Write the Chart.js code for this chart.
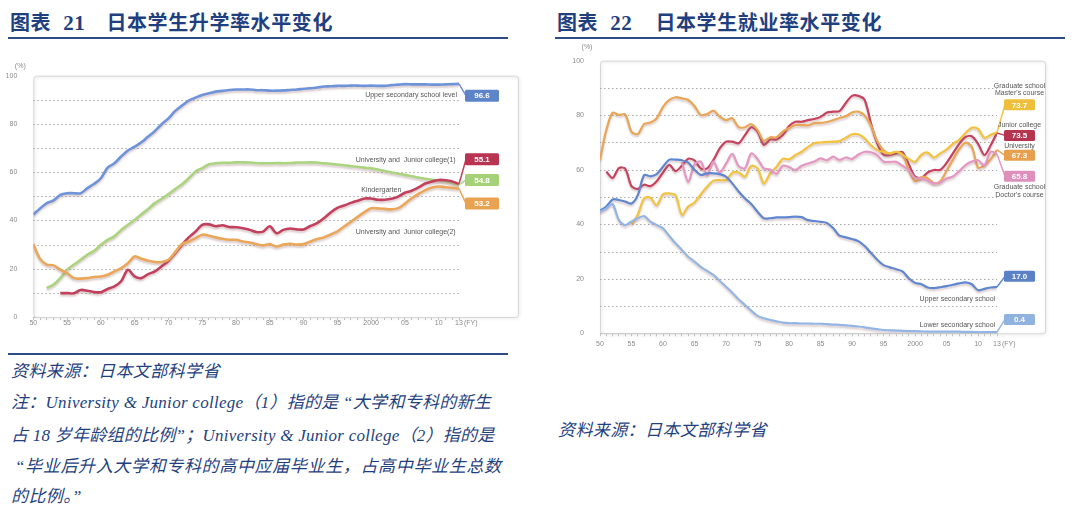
<!DOCTYPE html>
<html><head><meta charset="utf-8">
<script src="https://cdn.jsdelivr.net/npm/chart.js@4.4.1/dist/chart.umd.min.js"></script>
<style>
body{margin:0;width:1080px;height:512px;background:#fff;position:relative;overflow:hidden;font-family:"Noto Sans CJK SC",sans-serif;}
.title{position:absolute;top:9px;font-size:20px;font-weight:700;color:#1f3f7f;white-space:nowrap;letter-spacing:0.6px;line-height:26px}
.title .n{font-family:"Liberation Serif",serif;font-weight:700;font-size:21px}
.rule{position:absolute;height:2px;background:#2d4d8a}
.note{position:absolute;font-family:"Liberation Serif","Noto Sans CJK SC",serif;font-style:italic;font-size:17px;color:#1f3f7f;white-space:nowrap;line-height:20px}
canvas{position:absolute}
</style></head><body>
<div class="title" style="left:10px">图表<span class="n" style="margin-left:12px">21</span><span style="margin-left:21px">日本学生升学率水平变化</span></div>
<div class="rule" style="left:8px;top:37px;width:500px"></div>
<div class="title" style="left:557px">图表<span class="n" style="margin-left:12px">22</span><span style="margin-left:23px">日本学生就业率水平变化</span></div>
<div class="rule" style="left:555px;top:37px;width:510px"></div>
<canvas id="c1" width="530" height="290" style="left:0;top:50px;width:530px;height:290px"></canvas>
<canvas id="c2" width="520" height="320" style="left:555px;top:40px;width:520px;height:320px"></canvas>
<div class="rule" style="left:8px;top:353px;width:500px;height:1.5px"></div>
<div class="note" style="left:11px;top:362px;letter-spacing:0.4px">资料来源：日本文部科学省</div>
<div class="note" style="left:11px;top:393px;letter-spacing:0.28px">注：University &amp; Junior college（1）指的是 “大学和专科的新生</div>
<div class="note" style="left:11px;top:426px;letter-spacing:0.25px">占 18 岁年龄组的比例”；University &amp; Junior college（2）指的是</div>
<div class="note" style="left:15px;top:457px;letter-spacing:0.65px">“毕业后升入大学和专科的高中应届毕业生，占高中毕业生总数</div>
<div class="note" style="left:11px;top:487px;letter-spacing:0.4px">的比例。”</div>
<div class="note" style="left:558px;top:421px;letter-spacing:0.4px">资料来源：日本文部科学省</div>
<script>
// ---------- DATA ----------
const years = [1950,1951,1952,1953,1954,1955,1956,1957,1958,1959,1960,1961,1962,1963,1964,1965,1966,1967,1968,1969,1970,1971,1972,1973,1974,1975,1976,1977,1978,1979,1980,1981,1982,1983,1984,1985,1986,1987,1988,1989,1990,1991,1992,1993,1994,1995,1996,1997,1998,1999,2000,2001,2002,2003,2004,2005,2006,2007,2008,2009,2010,2011,2012,2013];
const tickYears = [1950,1955,1960,1965,1970,1975,1980,1985,1990,1995,2000,2005,2010,2013];
const tickText  = ['50','55','60','65','70','75','80','85','90','95','2000','05','10','13'];
const yTicks = [0,10,20,30,40,50,60,70,80,90,100];
const yTickLabels = ['0','','20','','40','','60','','80','','100'];

// Chart 21 (advancement rates)
const upperSecondaryLevel = [42.5,45.0,47.2,48.3,50.6,51.3,51.3,51.3,53.4,55.2, 57.5,61.9,63.7,66.5,69.0,70.6,72.4,74.8,77.1,79.9, 82.3,85.4,87.6,89.7,90.9,92.0,92.7,93.4,93.7,94.1, 94.3,94.3,94.3,94.0,94.0,93.8,93.8,93.9,94.1,94.3, 94.6,94.8,95.1,95.5,95.6,95.8,95.8,95.9,95.9,95.8, 95.9,95.8,95.8,96.1,96.3,96.5,96.4,96.4,96.4,96.3, 96.3,96.4,96.5,96.6];
const kindergarten = [null,null,12.0,13.4,16.1,19.6,21.7,23.7,25.8,27.4, 29.9,32.0,33.4,36.1,38.2,40.3,42.6,44.8,47.2,49.0, 50.9,53.0,55.0,57.5,60.3,61.7,63.3,63.7,63.9,63.9, 64.1,64.1,64.0,63.8,63.7,63.7,63.8,63.7,63.8,64.0, 64.0,64.1,64.0,63.7,63.5,63.2,62.9,62.5,62.3,61.9, 61.6,61.1,60.5,59.9,59.4,58.9,58.3,57.8,57.3,56.9, 56.6,56.3,55.5,54.8];
const univJunior1 = [null,null,null,null,9.9,9.9,9.8,11.2,10.9,10.3, 10.3,11.6,12.7,14.8,19.6,16.8,16.1,17.8,18.9,21.0, 23.3,26.5,29.9,33.0,35.4,38.2,38.4,37.6,38.0,37.3, 37.2,36.8,36.2,35.2,35.4,37.6,34.7,36.1,36.7,36.3, 36.3,37.7,38.9,40.9,43.3,45.2,46.2,47.3,48.2,49.1, 49.1,48.6,48.6,49.0,49.9,51.5,52.3,53.7,55.3,56.2, 56.8,56.7,56.2,55.1];
const univJunior2 = [30.2,24.1,21.7,21.4,19.6,18.2,16.1,15.9,16.1,16.6, 16.8,17.5,18.9,20.3,22.3,25.1,24.1,23.3,22.8,22.8, 23.7,26.9,30.2,31.3,32.7,34.1,33.7,33.0,32.4,32.0, 32.0,31.3,30.9,30.2,29.7,30.2,29.2,30.0,30.3,30.0, 30.2,31.3,32.3,33.0,34.2,35.5,37.5,39.5,41.5,43.5, 45.1,45.0,44.8,44.6,45.1,47.0,49.2,51.0,52.6,53.7, 54.1,53.8,53.5,53.2];

// Chart 22 (employment rates)
const empUniversity = [63.6,74.6,80.9,80.1,80.3,74.0,73.1,76.8,77.3,78.9, 83.1,85.6,86.6,86.2,85.6,83.4,80.1,80.4,81.7,79.5, 78.2,78.9,75.6,75.6,76.7,74.6,70.6,71.9,71.9,74.0, 75.3,76.4,76.4,76.3,77.1,77.2,77.5,78.2,79.0,79.6, 81.0,81.3,79.9,76.2,70.5,67.1,65.9,66.6,65.6,60.1, 55.8,57.3,56.9,55.1,55.8,59.7,63.7,67.6,69.9,68.4, 60.8,61.6,63.9,67.3];
const empJuniorCollege = [null,59.3,57.0,60.6,60.4,54.0,53.0,54.5,54.0,55.8, 59.0,61.8,59.5,61.5,64.0,63.4,60.5,60.5,63.6,67.8, 70.3,70.3,69.7,72.7,75.6,74.0,69.1,71.1,71.1,72.7, 76.0,77.6,77.6,78.2,78.6,79.4,81.0,81.3,81.5,84.5, 87.1,87.1,85.6,77.0,69.7,65.5,65.4,66.0,66.5,62.0, 57.5,57.0,59.0,59.9,60.0,62.5,66.0,69.5,72.0,72.3, 69.5,65.4,69.0,73.5];
const empMaster = [null,null,null,null,null,40.0,43.5,49.5,49.8,47.0, 51.0,51.3,50.6,43.5,46.5,48.0,51.0,53.8,56.0,56.2, 56.2,58.9,59.0,57.5,61.4,60.5,55.0,58.7,61.0,64.0, 63.8,65.4,66.6,68.4,69.7,70.0,70.2,70.3,70.5,71.7, 73.0,73.0,71.5,69.0,67.2,66.5,66.0,66.6,65.5,64.0, 62.9,65.5,66.3,64.5,66.0,67.5,69.5,71.0,73.5,75.4, 75.0,71.7,72.8,73.7];
const empDoctor = [null,null,null,null,null,null,null,null,null,null, null,null,null,62.9,55.6,62.0,63.0,58.0,63.0,59.0, 62.3,65.8,61.4,60.5,66.0,64.0,60.5,60.1,58.5,61.5, 61.0,59.9,61.5,62.3,63.0,64.2,63.5,64.8,63.6,64.5, 64.0,65.6,66.6,66.4,65.4,63.0,62.9,62.9,61.5,59.9, 57.0,56.8,56.0,55.0,55.3,56.8,57.5,59.5,61.7,63.0, 63.5,61.7,66.6,65.8];
const empUpperSecondary = [45.0,46.5,49.1,48.9,48.3,47.6,50.7,58.0,57.6,58.4, 61.1,63.7,63.7,63.5,62.6,60.0,58.1,58.7,58.7,58.4, 57.5,55.0,52.0,49.5,47.4,44.6,42.2,42.2,42.5,42.5, 42.6,42.8,42.6,41.5,41.2,40.9,40.5,38.6,35.8,35.2, 34.6,33.8,32.0,29.5,27.0,25.0,24.2,23.5,22.7,20.2, 18.5,18.0,16.8,16.6,16.9,17.3,17.8,18.3,18.7,18.0, 15.8,16.3,16.8,17.0];
const empLowerSecondary = [44.6,45.8,47.4,41.6,39.7,41.0,42.2,43.0,41.0,39.7, 38.5,35.7,33.0,30.6,28.1,26.3,24.4,22.9,21.4,19.3, 17.1,14.9,12.5,10.4,8.3,6.4,5.5,4.9,4.4,3.9, 3.7,3.7,3.6,3.6,3.5,3.5,3.4,3.2,3.1,2.9, 2.7,2.5,2.2,1.8,1.5,1.2,1.1,1.0,0.9,0.8, 0.8,0.7,0.6,0.6,0.6,0.6,0.6,0.6,0.5,0.5, 0.4,0.4,0.4,0.4];

// ---------- DRAWING ----------
const F = '"Liberation Sans", Arial, sans-serif';
function rr(ctx,x,y,w,h,r){ctx.beginPath();ctx.moveTo(x+r,y);ctx.lineTo(x+w-r,y);ctx.quadraticCurveTo(x+w,y,x+w,y+r);ctx.lineTo(x+w,y+h-r);ctx.quadraticCurveTo(x+w,y+h,x+w-r,y+h);ctx.lineTo(x+r,y+h);ctx.quadraticCurveTo(x,y+h,x,y+h-r);ctx.lineTo(x,y+r);ctx.quadraticCurveTo(x,y,x+r,y);ctx.closePath();}

function decor(o){
  return {
    id:'decor',
    beforeDatasetsDraw(chart){
      const {ctx, chartArea:a, scales:{x,y}} = chart;
      ctx.save();
      ctx.shadowColor='rgba(0,0,0,0.14)';ctx.shadowBlur=3;ctx.shadowOffsetX=1;ctx.shadowOffsetY=1;
      ctx.strokeStyle='#d6d6d6';ctx.lineWidth=1;
      rr(ctx,a.left+0.5,a.top+0.5,a.right+o.frameExtra-a.left,a.bottom-a.top,3);ctx.stroke();
      ctx.restore();
      ctx.save();ctx.strokeStyle='#a8a8a8';ctx.lineWidth=1;ctx.setLineDash([1.5,2.5]);
      yTicks.forEach(v=>{ if(v===0||v===100) return; const py=Math.round(y.getPixelForValue(v))+0.5;
        ctx.beginPath();ctx.moveTo(a.left,py);ctx.lineTo(a.right,py);ctx.stroke();});
      ctx.restore();
    },
    beforeDatasetDraw(chart){const c=chart.ctx;c.save();c.shadowColor='rgba(150,105,105,0.35)';c.shadowBlur=2;c.shadowOffsetY=2;},
    afterDatasetDraw(chart){chart.ctx.restore();},
    afterDatasetsDraw(chart){
      const {ctx, chartArea:a, scales:{x,y}} = chart;
      ctx.save();
      ctx.fillStyle='#8a8a8a';ctx.font='7px '+F;ctx.textBaseline='middle';ctx.textAlign='center';
      ctx.fillText('(%)',a.left-13,a.top+o.pctDy);
      ctx.textAlign='left';
      ctx.fillText('(FY)',x.getPixelForValue(2013)+5,a.bottom+o.fyDy);
      const last=years.length-1;
      o.boxes.forEach(b=>{
        const px=x.getPixelForValue(years[last]), py=y.getPixelForValue(b.values[last]);
        const bx=a.right+o.boxOff, by=y.getPixelForValue(b.level)-o.boxH/2;
        ctx.strokeStyle=b.line;ctx.lineWidth=1.5;ctx.beginPath();ctx.moveTo(px,py);ctx.lineTo(bx+1,by+o.boxH/2);ctx.stroke();
        ctx.fillStyle=b.color;rr(ctx,bx,by,o.boxW,o.boxH,1.5);ctx.fill();
        ctx.fillStyle='#fff';ctx.font='bold 8px '+F;ctx.textAlign='center';ctx.textBaseline='middle';
        ctx.fillText(b.text,bx+o.boxW/2,by+o.boxH/2+0.5);
      });
      ctx.fillStyle='#555';ctx.font='7px '+F;ctx.textBaseline='middle';
      o.texts.forEach(t=>{
        ctx.textAlign=t.align;
        const tx = t.atBox ? a.right+o.boxOff+o.boxW/2 : x.getPixelForValue(t.yr);
        ctx.fillText(t.t,tx,y.getPixelForValue(t.v));
      });
      ctx.restore();
    }
  };
}

function build(id,o){
  const datasets=o.series.map(s=>({label:s.name,data:years.map((yr,i)=>({x:yr,y:s.values[i]})),
    borderColor:s.color,borderWidth:o.lw,pointRadius:0,tension:0.3,fill:false,spanGaps:false}));
  new Chart(document.getElementById(id),{
    type:'line',data:{datasets},
    options:{responsive:false,animation:false,devicePixelRatio:1,
      layout:{padding:{top:o.padTop,right:o.padRight,left:0,bottom:0}},
      plugins:{legend:{display:false},tooltip:{enabled:false}},
      scales:{
        x:{type:'linear',min:1950,max:2013,
          afterBuildTicks:s=>{s.ticks=years.map(v=>({value:v}));},
          afterFit:s=>{s.height=o.xH;},
          grid:{drawOnChartArea:false,drawTicks:true,tickLength:3,color:'#c6c6c6',lineWidth:1},
          border:{color:'#bcbcbc',width:1},
          ticks:{autoSkip:false,maxRotation:0,minRotation:0,padding:o.xPad,color:'#8a8a8a',font:{size:7,family:F},
            callback:v=>{const k=tickYears.indexOf(v);return k<0?'':tickText[k];}}},
        y:{type:'linear',min:0,max:100,
          afterBuildTicks:s=>{s.ticks=yTicks.map(v=>({value:v}));},
          afterFit:s=>{s.width=o.yW;},
          grid:{display:false},border:{display:false},
          ticks:{padding:o.yPad,color:'#8a8a8a',font:{size:7,family:F},
            callback:v=>yTickLabels[yTicks.indexOf(v)]}}
      }},
    plugins:[decor(o)]
  });
}

build('c1',{
  lw:2.6,padTop:25.7,padRight:71,xH:23,yW:33.3,xPad:-1,yPad:8,frameExtra:59,pctDy:-10,fyDy:6,
  boxOff:6,boxW:34,boxH:12,
  series:[
    {name:'University and Junior college(2)',values:univJunior2,color:'#eaa75a'},
    {name:'University and Junior college(1)',values:univJunior1,color:'#c2405e'},
    {name:'Kindergarten',values:kindergarten,color:'#abd47f'},
    {name:'Upper secondary school level',values:upperSecondaryLevel,color:'#6e93d8'}
  ],
  boxes:[
    {text:'96.6',values:upperSecondaryLevel,level:91.7,color:'#5d84c9',line:'#6e93d8'},
    {text:'55.1',values:univJunior1,level:65.4,color:'#b93450',line:'#c2405e'},
    {text:'54.8',values:kindergarten,level:56.8,color:'#a5d178',line:'#abd47f'},
    {text:'53.2',values:univJunior2,level:47.0,color:'#e9a350',line:'#eaa75a'}
  ],
  texts:[
    {t:'Upper secondary school level',yr:2012.7,v:92.0,align:'right'},
    {t:'University and  Junior college(1)',yr:2012.5,v:65.1,align:'right'},
    {t:'Kindergarten',yr:2001.5,v:52.6,align:'center'},
    {t:'University and  Junior college(2)',yr:2012.5,v:35.3,align:'right'}
  ]
});

build('c2',{
  lw:2.2,padTop:20.7,padRight:78,xH:26.7,yW:45,xPad:3.5,yPad:8,frameExtra:48,pctDy:-13.4,fyDy:10.7,
  boxOff:7,boxW:31,boxH:11,
  series:[
    {name:'Lower secondary school',values:empLowerSecondary,color:'#93b5e6'},
    {name:'Upper secondary school',values:empUpperSecondary,color:'#5f86d0'},
    {name:'Graduate school Doctor\'s course',values:empDoctor,color:'#e497c2'},
    {name:'Graduate school Master\'s course',values:empMaster,color:'#f2c33e'},
    {name:'University',values:empUniversity,color:'#e8a656'},
    {name:'Junior college',values:empJuniorCollege,color:'#c6425f'}
  ],
  boxes:[
    {text:'73.7',values:empMaster,level:83.8,color:'#efbf3c',line:'#f2c33e'},
    {text:'73.5',values:empJuniorCollege,level:72.6,color:'#b63450',line:'#c6425f'},
    {text:'67.3',values:empUniversity,level:65.3,color:'#e8a04e',line:'#e8a656'},
    {text:'65.8',values:empDoctor,level:57.6,color:'#de8fbb',line:'#e497c2'},
    {text:'17.0',values:empUpperSecondary,level:20.9,color:'#5a80c6',line:'#5f86d0'},
    {text:'0.4',values:empLowerSecondary,level:5.1,color:'#8fb2de',line:'#93b5e6'}
  ],
  texts:[
    {t:'Graduate school',atBox:true,v:90.8,align:'center'},
    {t:'Master\'s course',atBox:true,v:88.0,align:'center'},
    {t:'Junior college',atBox:true,v:76.5,align:'center'},
    {t:'University',atBox:true,v:68.8,align:'center'},
    {t:'Graduate school',atBox:true,v:53.5,align:'center'},
    {t:'Doctor\'s course',atBox:true,v:50.7,align:'center'},
    {t:'Upper secondary school',yr:2012.7,v:12.7,align:'right'},
    {t:'Lower secondary school',yr:2012.7,v:3.0,align:'right'}
  ]
});
</script>
</body></html>
